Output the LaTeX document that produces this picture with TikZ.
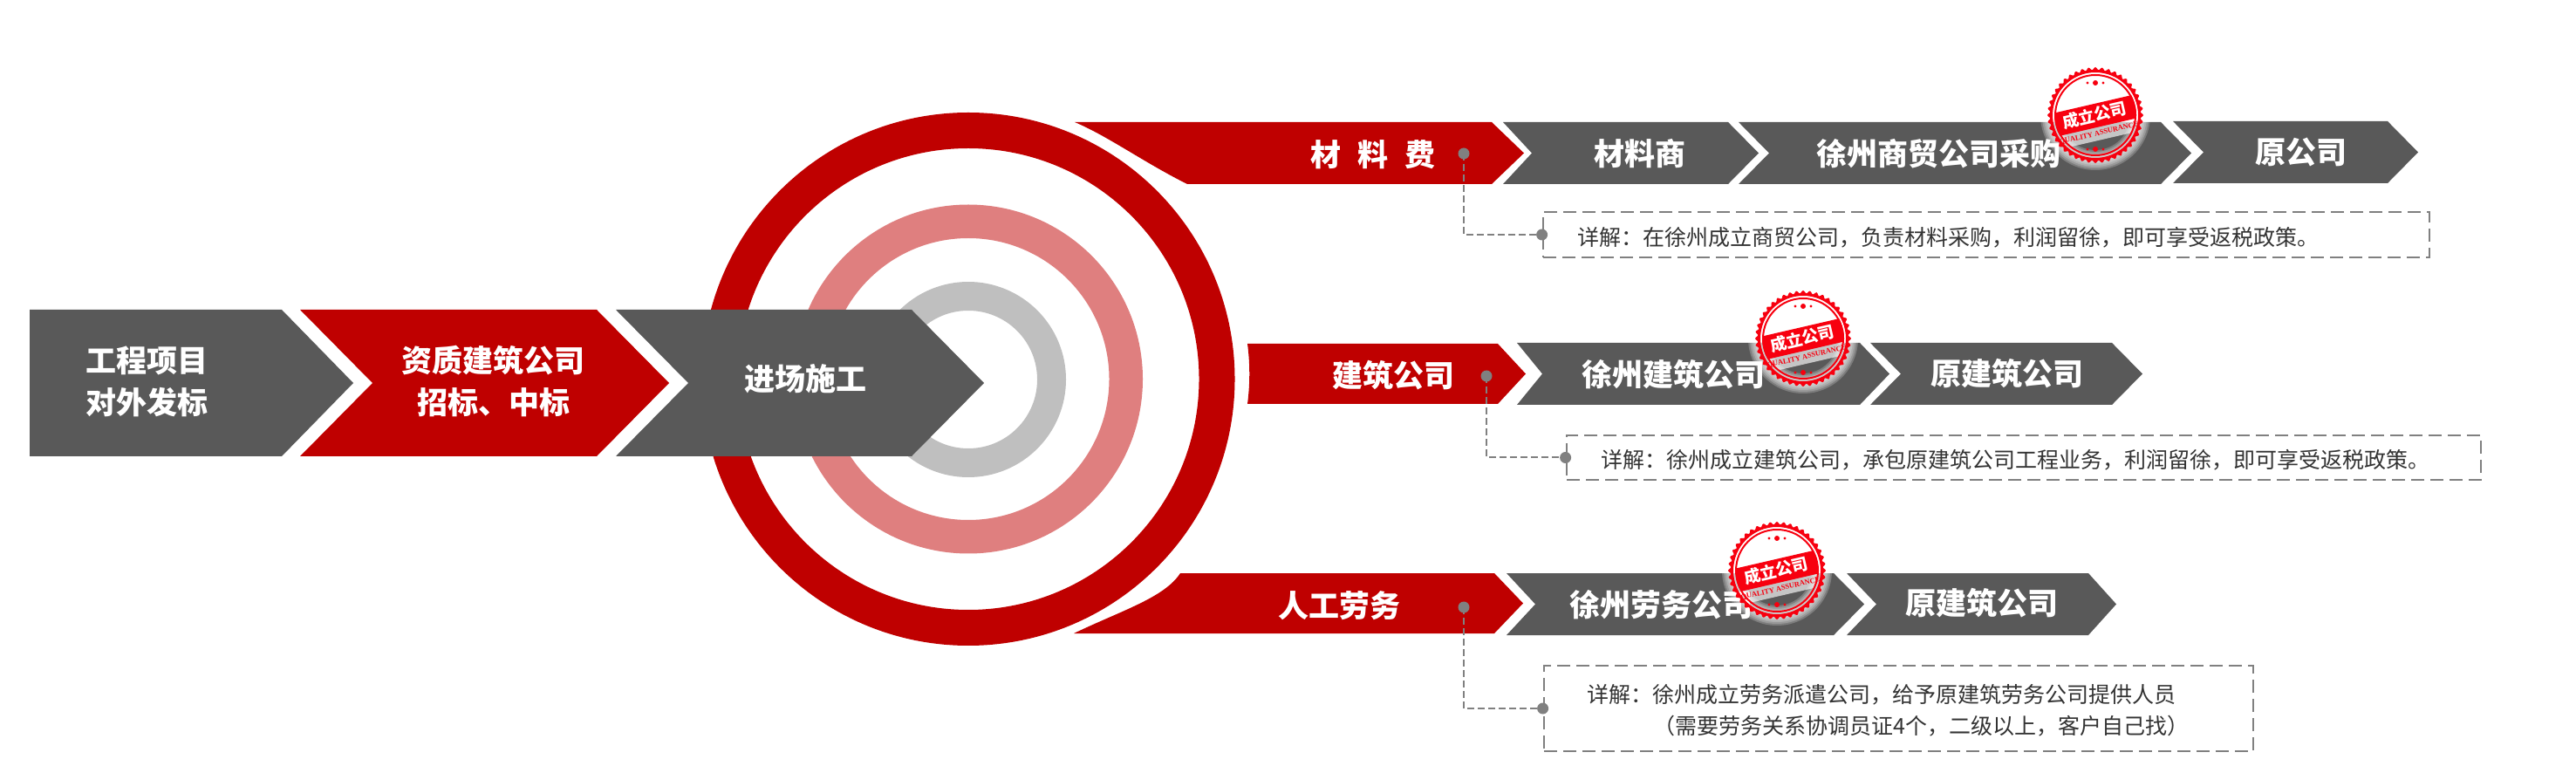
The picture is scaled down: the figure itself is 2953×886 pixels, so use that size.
\documentclass[tikz,border=0pt]{standalone}
\usepackage{fontspec}
\newfontfamily\cjk{Noto Sans CJK SC}
\newfontfamily\serifq{Liberation Serif}
\definecolor{cred}{HTML}{BF0000}
\definecolor{cgrey}{HTML}{595959}
\definecolor{cpink}{HTML}{DF7F7F}
\definecolor{clight}{HTML}{BFBFBF}
\definecolor{cdash}{HTML}{808080}
\definecolor{stampred}{HTML}{F7000F}
\definecolor{ctext}{HTML}{333333}
\tikzset{
  lab/.style={text=white,inner sep=0pt,font=\cjk\bfseries\fontsize{17.5pt}{20pt}\selectfont},
  note/.style={text=ctext,inner sep=0pt,font=\cjk\fontsize{12.5pt}{15pt}\selectfont},
  dashbox/.style={draw=cdash,line width=1.4pt,dash pattern=on 7.5pt off 3.5pt,inner sep=0pt},
  dotnode/.style={circle,fill=cdash,minimum size=6.5pt,inner sep=0pt},
  conn/.style={draw=cdash,line width=1pt,dash pattern=on 4pt off 2pt},
}
% chevron: colour, x-left, x-notch, x-right, x-tip, y-top, y-bottom
\newcommand{\chev}[7]{%
  \pgfmathsetmacro{\ymid}{(#6+#7)/2}%
  \fill[#1] (#2,#6) -- (#4,#6) -- (#5,\ymid) -- (#4,#7) -- (#2,#7) -- (#3,\ymid) -- cycle;}
\newcommand{\stampmark}[3]{%
  \begin{scope}[shift={(#1,#2)}]
    \foreach \ra/\rb in {63/46,61/46,59/44,57/42,55/40}{
      \fill[white,opacity=.22,even odd rule] (0,0) circle (\ra) (0,0) circle (\rb);}
    \begin{scope}
      \clip (0,0) circle (47);
      \begin{scope}[rotate=13]
        \fill[white,opacity=.65] (-60,13) rectangle (60,29);
        \fill[stampred] (-60,-13) rectangle (60,14);
      \end{scope}
    \end{scope}
    \fill[stampred,even odd rule] plot[domain=0:360,samples=265,smooth] ({(#3-1.6+1.6*cos(44*\x))*cos(\x)},{(#3-1.6+1.6*cos(44*\x))*sin(\x)}) -- cycle (0,0) circle (#3-6);
    \fill[stampred,even odd rule] (0,0) circle (#3-8) (0,0) circle (#3-10);
    \node[rotate=13,text=white,inner sep=0pt,font=\cjk\bfseries\fontsize{9.4pt}{10pt}\selectfont] at (-1,0) {成立公司};
    \node[rotate=13,text=stampred,inner sep=0pt,font=\serifq\bfseries\fontsize{4.2pt}{5pt}\selectfont] at (4,21) {QUALITY ASSURANCE};
    \foreach \yy in {-37,39}{
      \fill[stampred] (-9,\yy) circle (1.7) (9,\yy) circle (1.7) (0,\yy) circle (3);}
  \end{scope}}
\begin{document}
\begin{tikzpicture}[x=0.5pt,y=-0.5pt]
\useasboundingbox (0,0) rectangle (2953,886);
% rings
\fill[cred,even odd rule] (1110,434.5) circle (305.5) (1110,434.5) circle (264.5);
\fill[cpink,even odd rule] (1110,434.5) circle (200) (1110,434.5) circle (161.5);
\fill[clight,even odd rule] (1110,435) circle (112) (1110,435) circle (79);
% left chevrons
\fill[cgrey] (34,355) -- (323,355) -- (405,439) -- (323,523) -- (34,523) -- cycle;
\chev{cred}{344}{427}{684}{767}{355}{523}
\chev{cgrey}{706}{789}{1045}{1128}{355}{523}
\node[lab] (t1a) at (168,413) {工程项目};
\node[lab] (t1b) at (168,461) {对外发标};
\node[lab] (t2a) at (565,413) {资质建筑公司};
\node[lab] (t2b) at (566,461) {招标、中标};
\node[lab] (t3) at (923,434) {进场施工};
% row 1
\fill[cred] (1232,140) -- (1710,140) -- (1747,175.5) -- (1710,211) -- (1361,211) .. controls (1311,186) and (1270,156) .. (1232,140) -- cycle;
\chev{cgrey}{1723}{1756}{1981}{2016}{140}{211}
\chev{cgrey}{1993}{2028}{2477}{2512}{140}{211}
\chev{cgrey}{2491}{2526}{2737}{2772}{139}{210}
\node[lab] (r1a) at (1574,177) {\spaceskip=9.5pt 材 料 费};
\node[lab] (r1b) at (1880,176) {材料商};
\node[lab] (r1c) at (2222,176) {徐州商贸公司采购};
\node[lab] (r1d) at (2638,175) {原公司};
% row 2
\fill[cred] (1430,394) -- (1717,394) -- (1749,428.5) -- (1717,463) -- (1430,463) .. controls (1433,440) and (1433,417) .. (1430,394) -- cycle;
\chev{cgrey}{1739}{1768}{2132}{2166}{393}{464}
\chev{cgrey}{2144}{2179}{2421}{2456}{393}{464}
\node[lab] (r2a) at (1597,430) {建筑公司};
\node[lab] (r2b) at (1918,429) {徐州建筑公司};
\node[lab] (r2c) at (2301,428) {原建筑公司};
% row 3
\fill[cred] (1353,657) -- (1713,657) -- (1746,691.5) -- (1713,726) -- (1231,726) .. controls (1285,700) and (1335,685) .. (1353,657) -- cycle;
\chev{cgrey}{1727}{1760}{2102}{2137}{657}{728}
\chev{cgrey}{2117}{2151}{2394}{2426}{657}{728}
\node[lab] (r3a) at (1535,694) {人工劳务};
\node[lab] (r3b) at (1904,693) {徐州劳务公司};
\node[lab] (r3c) at (2272,691) {原建筑公司};
% detail boxes
\node[dashbox,minimum width=508pt,minimum height=26pt] (b1) at (2277,269) {};
\node[dashbox,minimum width=524pt,minimum height=25.5pt] (b2) at (2320,524.5) {};
\node[dashbox,minimum width=406.5pt,minimum height=49pt] (b3) at (2176.5,812) {};
\node[note,anchor=west] (n1) at (1808,272) {详解^^^^ff1a在徐州成立商贸公司^^^^ff0c负责材料采购^^^^ff0c利润留徐^^^^ff0c即可享受返税政策。};
\node[note,anchor=west] (n2) at (1835,527) {详解^^^^ff1a徐州成立建筑公司^^^^ff0c承包原建筑公司工程业务^^^^ff0c利润留徐^^^^ff0c即可享受返税政策。};
\node[note,anchor=west] (n3a) at (1819,796) {详解^^^^ff1a徐州成立劳务派遣公司^^^^ff0c给予原建筑劳务公司提供人员};
\node[note,anchor=east] (n3b) at (2510,832) {^^^^ff08需要劳务关系协调员证4个^^^^ff0c二级以上^^^^ff0c客户自己找^^^^ff09};
% connectors
\node[dotnode] (d1a) at (1678,176) {};
\node[dotnode] (d1b) at (b1.west) {};
\node[dotnode] (d2a) at (1704,431) {};
\node[dotnode] (d2b) at (b2.west) {};
\node[dotnode] (d3a) at (1678,696) {};
\node[dotnode] (d3b) at (b3.west) {};
\draw[conn] (d1a.center) |- (d1b.center);
\draw[conn] (d2a.center) |- (d2b.center);
\draw[conn] (d3a.center) |- (d3b.center);
% stamps
\stampmark{2402}{132}{55}
\stampmark{2067}{388}{55}
\stampmark{2037}{654}{56}
\end{tikzpicture}
\end{document}
